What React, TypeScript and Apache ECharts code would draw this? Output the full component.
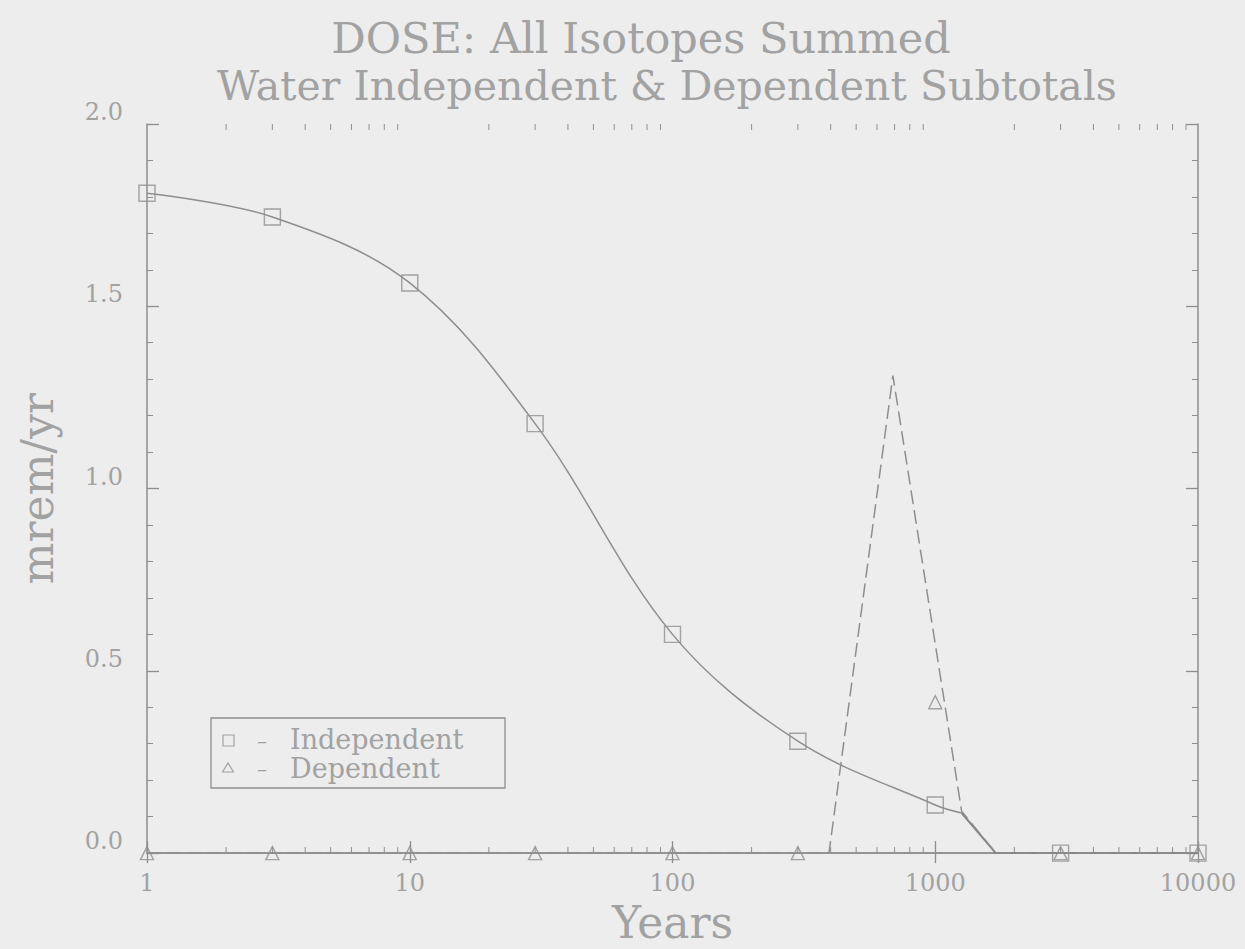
import React, { useEffect, useRef } from 'react';
import * as echarts from 'echarts';

// ---- data ----
const markerYears = [1, 3, 10, 30, 100, 300, 1000, 3000, 10000];
const independentValues = [1.81, 1.745, 1.564, 1.178, 0.6, 0.307, 0.132, 0, 0];
const dependentValues = [0, 0, 0, 0, 0, 0, 0.414, 0, 0];

const independentCurveYears = [1, 3, 10, 30, 100, 300, 1000, 1260];
const independentCurveValues = [1.81, 1.745, 1.564, 1.178, 0.6, 0.307, 0.132, 0.11];
const independentTailYears = [1260, 1700, 3000, 10000];
const independentTailValues = [0.11, 0, 0, 0];

const dependentCurveYears = [1, 394, 690, 1260, 1700, 10000];
const dependentCurveValues = [0, 0, 1.31, 0.115, 0, 0];

const xTickLabels = ['1', '10', '100', '1000', '10000'];
const minorTickYears = [
  2, 3, 4, 5, 6, 7, 8, 9,
  20, 30, 40, 50, 60, 70, 80, 90,
  200, 300, 400, 500, 600, 700, 800, 900,
  2000, 3000, 4000, 5000, 6000, 7000, 8000, 9000,
];

const titleLines = ['DOSE: All Isotopes Summed', 'Water Independent & Dependent Subtotals'];
const legendLabels = ['Independent', 'Dependent'];

const FONT = '"DejaVu Serif", "Liberation Serif", serif';
const TEXT = '#a2a2a2';
const LINE = '#8e8e8e';
const BG = '#ededed';

export default function App() {
  const ref = useRef<HTMLDivElement>(null);

  useEffect(() => {
    if (!ref.current) return;
    const chart = echarts.init(ref.current, undefined, { renderer: 'svg' });

    const tickCommon = {
      show: true,
      inside: true,
      length: 12,
      lineStyle: { color: LINE, width: 1.3 },
    };

    const option: any = {
      animation: false,
      backgroundColor: BG,
      grid: { left: 147, right: 47, top: 124, bottom: 95, containLabel: false },
      xAxis: [
        {
          type: 'log',
          logBase: 10,
          min: 1,
          max: 10000,
          position: 'bottom',
          name: 'Years',
          nameLocation: 'middle',
          nameGap: 38,
          nameTextStyle: { fontFamily: FONT, fontSize: 44, color: TEXT },
          axisLine: { show: true, lineStyle: { color: LINE, width: 1.5 } },
          axisTick: tickCommon,
          splitLine: { show: false },
          axisLabel: {
            fontFamily: FONT,
            fontSize: 24,
            color: TEXT,
            margin: 18,
            formatter: (v: number) => xTickLabels[Math.round(Math.log10(v))],
          },
        },
        {
          type: 'log',
          logBase: 10,
          min: 1,
          max: 10000,
          position: 'top',
          axisLine: { show: true, lineStyle: { color: LINE, width: 1.5 } },
          axisTick: { ...tickCommon, length: 10 },
          axisLabel: { show: false },
          splitLine: { show: false },
        },
      ],
      yAxis: [
        {
          type: 'value',
          min: 0,
          max: 2,
          interval: 0.5,
          position: 'left',
          name: 'mrem/yr',
          nameLocation: 'middle',
          nameGap: 88,
          nameTextStyle: { fontFamily: FONT, fontSize: 44, color: TEXT },
          axisLine: { show: true, lineStyle: { color: LINE, width: 1.5 } },
          axisTick: tickCommon,
          minorTick: { show: true, splitNumber: 5, length: 6, lineStyle: { color: LINE, width: 1 } },
          splitLine: { show: false },
          axisLabel: {
            fontFamily: FONT,
            fontSize: 24,
            color: TEXT,
            margin: 24,
            verticalAlign: 'bottom',
            formatter: (v: number) => v.toFixed(1),
          },
        },
        {
          type: 'value',
          min: 0,
          max: 2,
          interval: 0.5,
          position: 'right',
          axisLine: { show: true, lineStyle: { color: LINE, width: 1.5 } },
          axisTick: tickCommon,
          minorTick: { show: true, splitNumber: 5, length: 6, lineStyle: { color: LINE, width: 1 } },
          splitLine: { show: false },
          axisLabel: { show: false },
        },
      ],
      graphic: [
        {
          type: 'text',
          x: 641,
          y: 38,
          style: {
            text: titleLines[0],
            font: `43px ${FONT}`,
            fill: TEXT,
            align: 'center',
            verticalAlign: 'middle',
          },
        },
        {
          type: 'text',
          x: 667,
          y: 86,
          style: {
            text: titleLines[1],
            font: `41px ${FONT}`,
            fill: TEXT,
            align: 'center',
            verticalAlign: 'middle',
          },
        },
        {
          type: 'rect',
          shape: { x: 211, y: 718, width: 294, height: 70 },
          style: { fill: 'none', stroke: LINE, lineWidth: 1.3 },
        },
        {
          type: 'rect',
          shape: { x: 223, y: 735, width: 11, height: 11 },
          style: { fill: 'none', stroke: TEXT, lineWidth: 1.2 },
        },
        {
          type: 'polygon',
          shape: { points: [[228, 763], [222.5, 772], [233.5, 772]] },
          style: { fill: 'none', stroke: TEXT, lineWidth: 1.2 },
        },
        {
          type: 'text',
          x: 257,
          y: 741,
          style: { text: '–', font: `20px ${FONT}`, fill: TEXT, verticalAlign: 'middle' },
        },
        {
          type: 'text',
          x: 257,
          y: 769,
          style: { text: '–', font: `20px ${FONT}`, fill: TEXT, verticalAlign: 'middle' },
        },
        {
          type: 'text',
          x: 290,
          y: 739,
          style: { text: legendLabels[0], font: `27px ${FONT}`, fill: TEXT, verticalAlign: 'middle' },
        },
        {
          type: 'text',
          x: 290,
          y: 768,
          style: { text: legendLabels[1], font: `27px ${FONT}`, fill: TEXT, verticalAlign: 'middle' },
        },
      ],
      series: [
        {
          name: 'minorTicks',
          type: 'custom',
          xAxisIndex: 0,
          yAxisIndex: 0,
          silent: true,
          clip: false,
          data: minorTickYears.map((v) => [v, 0]),
          renderItem: (params: any, api: any) => {
            const x = api.coord([api.value(0), 0])[0];
            const cs = params.coordSys;
            const bottom = cs.y + cs.height;
            const top = cs.y;
            const style = { stroke: LINE, lineWidth: 1 };
            return {
              type: 'group',
              children: [
                { type: 'line', shape: { x1: x, y1: bottom, x2: x, y2: bottom - 6 }, style },
                { type: 'line', shape: { x1: x, y1: top, x2: x, y2: top + 6 }, style },
              ],
            };
          },
        },
        {
          name: 'Independent curve',
          type: 'line',
          smooth: 0.35,
          showSymbol: false,
          data: independentCurveYears.map((y, i) => [y, independentCurveValues[i]]),
          lineStyle: { color: LINE, width: 1.5 },
        },
        {
          name: 'Independent tail',
          type: 'line',
          showSymbol: false,
          data: independentTailYears.map((y, i) => [y, independentTailValues[i]]),
          lineStyle: { color: '#858585', width: 2 },
        },
        {
          name: 'Dependent curve',
          type: 'line',
          showSymbol: false,
          data: dependentCurveYears.map((y, i) => [y, dependentCurveValues[i]]),
          lineStyle: { color: LINE, width: 1.5, type: [14, 6] },
        },
        {
          name: 'Independent',
          type: 'scatter',
          symbol: 'rect',
          symbolSize: 16,
          clip: false,
          data: markerYears.map((y, i) => [y, independentValues[i]]),
          itemStyle: { color: 'rgba(0,0,0,0)', borderColor: LINE, borderWidth: 1.4 },
        },
        {
          name: 'Dependent',
          type: 'scatter',
          symbol: 'triangle',
          symbolSize: 13,
          clip: false,
          data: markerYears.map((y, i) => [y, dependentValues[i]]),
          itemStyle: { color: 'rgba(0,0,0,0)', borderColor: LINE, borderWidth: 1.4 },
        },
      ],
    };

    chart.setOption(option);
    return () => chart.dispose();
  }, []);

  return (
    <div
      ref={ref}
      style={{ position: 'fixed', left: 0, top: 0, width: 1245, height: 949, background: BG }}
    />
  );
}
